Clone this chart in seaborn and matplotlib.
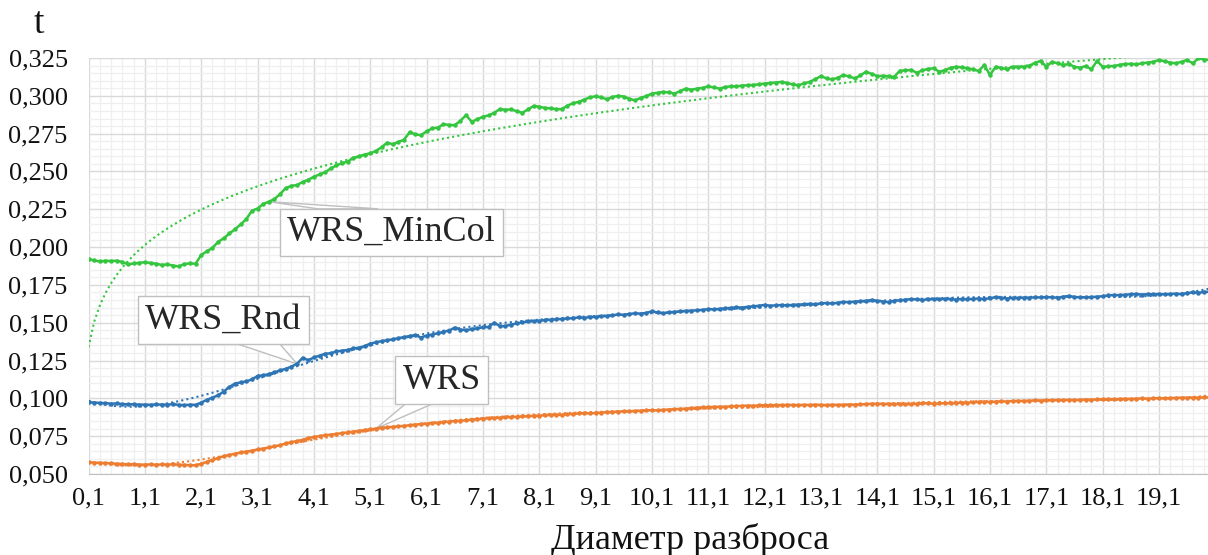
import numpy as np
import pandas as pd
import seaborn as sns
import matplotlib.pyplot as plt
from matplotlib.ticker import FixedLocator, MultipleLocator, FuncFormatter

# Диаметр разброса: 0,1 ... 20,0 с шагом 0,1
diam = np.round(np.arange(1, 201) * 0.1, 1)

wrs = [
    0.0578, 0.0575, 0.0574, 0.0572, 0.0570, 0.0568, 0.0566, 0.0564, 0.0565, 0.0562,
    0.0562, 0.0563, 0.0561, 0.0563, 0.0562, 0.0564, 0.0561, 0.0560, 0.0558, 0.0557,
    0.0568, 0.0580, 0.0592, 0.0605, 0.0618, 0.0626, 0.0634, 0.0642, 0.0648, 0.0654,
    0.0662, 0.0668, 0.0675, 0.0683, 0.0690, 0.0702, 0.0710, 0.0718, 0.0725, 0.0738,
    0.0745, 0.0750, 0.0756, 0.0760, 0.0765, 0.0770, 0.0775, 0.0780, 0.0785, 0.0790,
    0.0795, 0.0800, 0.0806, 0.0808, 0.0812, 0.0815, 0.0818, 0.0822, 0.0826, 0.0830,
    0.0832, 0.0836, 0.0838, 0.0843, 0.0846, 0.0850, 0.0852, 0.0855, 0.0860, 0.0862,
    0.0866, 0.0868, 0.0870, 0.0872, 0.0874, 0.0876, 0.0878, 0.0880, 0.0882, 0.0884,
    0.0886, 0.0888, 0.0890, 0.0892, 0.0890, 0.0895, 0.0897, 0.0900, 0.0902, 0.0900,
    0.0904, 0.0906, 0.0908, 0.0910, 0.0912, 0.0914, 0.0913, 0.0916, 0.0918, 0.0920,
    0.0922, 0.0920, 0.0924, 0.0926, 0.0928, 0.0930, 0.0932, 0.0935, 0.0938, 0.0940,
    0.0942, 0.0943, 0.0945, 0.0944, 0.0947, 0.0949, 0.0950, 0.0952, 0.0951, 0.0953,
    0.0955, 0.0954, 0.0956, 0.0955, 0.0957, 0.0956, 0.0955, 0.0957, 0.0956, 0.0958,
    0.0957, 0.0955, 0.0958, 0.0956, 0.0957, 0.0959, 0.0958, 0.0960, 0.0962, 0.0964,
    0.0965, 0.0963, 0.0962, 0.0961, 0.0963, 0.0960, 0.0962, 0.0964, 0.0966, 0.0968,
    0.0965, 0.0966, 0.0968, 0.0967, 0.0970, 0.0972, 0.0971, 0.0974, 0.0976, 0.0977,
    0.0976, 0.0978, 0.0980, 0.0979, 0.0982, 0.0983, 0.0982, 0.0984, 0.0986, 0.0985,
    0.0988, 0.0987, 0.0989, 0.0988, 0.0990, 0.0989, 0.0990, 0.0992, 0.0991, 0.0993,
    0.0994, 0.0995, 0.0994, 0.0996, 0.0997, 0.0996, 0.0998, 0.0999, 0.0998, 0.1000,
    0.1001, 0.1000, 0.1002, 0.1003, 0.1004, 0.1003, 0.1005, 0.1004, 0.1006, 0.1006,
]

wrs_rnd = [
    0.0974, 0.0972, 0.0970, 0.0968, 0.0965, 0.0966, 0.0962, 0.0960, 0.0961, 0.0958,
    0.0959, 0.0957, 0.0960, 0.0958, 0.0959, 0.0961, 0.0957, 0.0955, 0.0958, 0.0957,
    0.0972, 0.0990, 0.1005, 0.1020, 0.1045, 0.1075, 0.1098, 0.1105, 0.1112, 0.1125,
    0.1148, 0.1152, 0.1160, 0.1172, 0.1185, 0.1195, 0.1210, 0.1228, 0.1268, 0.1252,
    0.1270, 0.1282, 0.1295, 0.1298, 0.1310, 0.1315, 0.1320, 0.1330, 0.1335, 0.1345,
    0.1362, 0.1370, 0.1378, 0.1384, 0.1390, 0.1398, 0.1405, 0.1412, 0.1418, 0.1402,
    0.1415, 0.1422, 0.1430, 0.1440, 0.1448, 0.1468, 0.1455, 0.1450, 0.1458, 0.1462,
    0.1470, 0.1472, 0.1500, 0.1478, 0.1478, 0.1488, 0.1495, 0.1502, 0.1508, 0.1510,
    0.1512, 0.1518, 0.1520, 0.1522, 0.1525, 0.1528, 0.1530, 0.1535, 0.1532, 0.1538,
    0.1538, 0.1542, 0.1545, 0.1548, 0.1555, 0.1552, 0.1558, 0.1562, 0.1560, 0.1565,
    0.1575, 0.1568, 0.1562, 0.1568, 0.1572, 0.1575, 0.1578, 0.1580, 0.1582, 0.1585,
    0.1590, 0.1588, 0.1592, 0.1595, 0.1598, 0.1602, 0.1600, 0.1605, 0.1608, 0.1612,
    0.1618, 0.1612, 0.1615, 0.1617, 0.1615, 0.1618, 0.1620, 0.1622, 0.1625, 0.1622,
    0.1628, 0.1630, 0.1627, 0.1632, 0.1638, 0.1635, 0.1640, 0.1642, 0.1645, 0.1650,
    0.1645, 0.1640, 0.1636, 0.1645, 0.1648, 0.1652, 0.1656, 0.1654, 0.1650, 0.1655,
    0.1656, 0.1655, 0.1658, 0.1656, 0.1653, 0.1657, 0.1655, 0.1658, 0.1660, 0.1657,
    0.1662, 0.1668, 0.1665, 0.1660, 0.1664, 0.1663, 0.1666, 0.1665, 0.1668, 0.1667,
    0.1670, 0.1668, 0.1665, 0.1672, 0.1677, 0.1670, 0.1668, 0.1667, 0.1670, 0.1672,
    0.1675, 0.1680, 0.1683, 0.1682, 0.1685, 0.1688, 0.1690, 0.1686, 0.1689, 0.1688,
    0.1690, 0.1688, 0.1690, 0.1692, 0.1689, 0.1696, 0.1700, 0.1698, 0.1703, 0.1705,
]

wrs_mincol = [
    0.1920, 0.1912, 0.1905, 0.1910, 0.1908, 0.1910, 0.1902, 0.1885, 0.1892, 0.1896,
    0.1900, 0.1895, 0.1890, 0.1882, 0.1885, 0.1878, 0.1872, 0.1888, 0.1892, 0.1890,
    0.1948, 0.1972, 0.1995, 0.2035, 0.2058, 0.2090, 0.2118, 0.2150, 0.2185, 0.2240,
    0.2255, 0.2285, 0.2300, 0.2318, 0.2350, 0.2390, 0.2405, 0.2410, 0.2430, 0.2445,
    0.2465, 0.2480, 0.2495, 0.2520, 0.2540, 0.2555, 0.2565, 0.2590, 0.2600, 0.2612,
    0.2620, 0.2635, 0.2660, 0.2690, 0.2680, 0.2695, 0.2710, 0.2760, 0.2745, 0.2740,
    0.2765, 0.2785, 0.2790, 0.2812, 0.2808, 0.2806, 0.2835, 0.2872, 0.2829, 0.2845,
    0.2862, 0.2870, 0.2888, 0.2912, 0.2908, 0.2910, 0.2898, 0.2888, 0.2910, 0.2933,
    0.2928, 0.2920, 0.2917, 0.2912, 0.2912, 0.2935, 0.2951, 0.2960, 0.2975, 0.2990,
    0.2997, 0.2990, 0.2977, 0.2992, 0.3000, 0.2995, 0.2980, 0.2970, 0.2986, 0.2998,
    0.3015, 0.3020, 0.3026, 0.3022, 0.3015, 0.3030, 0.3048, 0.3040, 0.3048, 0.3052,
    0.3063, 0.3055, 0.3048, 0.3058, 0.3063, 0.3062, 0.3068, 0.3070, 0.3072, 0.3076,
    0.3081, 0.3085, 0.3088, 0.3092, 0.3085, 0.3075, 0.3070, 0.3082, 0.3092, 0.3110,
    0.3130, 0.3115, 0.3108, 0.3120, 0.3137, 0.3128, 0.3115, 0.3135, 0.3159, 0.3145,
    0.3130, 0.3132, 0.3130, 0.3125, 0.3166, 0.3168, 0.3171, 0.3153, 0.3168, 0.3178,
    0.3182, 0.3159, 0.3170, 0.3185, 0.3192, 0.3188, 0.3182, 0.3175, 0.3164, 0.3204,
    0.3137, 0.3192, 0.3185, 0.3175, 0.3192, 0.3190, 0.3192, 0.3200, 0.3218, 0.3231,
    0.3192, 0.3225, 0.3215, 0.3204, 0.3210, 0.3192, 0.3186, 0.3197, 0.3175, 0.3231,
    0.3192, 0.3195, 0.3197, 0.3205, 0.3210, 0.3212, 0.3208, 0.3215, 0.3220, 0.3225,
    0.3237, 0.3228, 0.3220, 0.3215, 0.3225, 0.3237, 0.3215, 0.3248, 0.3240, 0.3237,
]

col_wrs = '#ED7D31'
col_rnd = '#2E75B6'
col_min = '#34C63E'

df = pd.DataFrame({'d': diam, 'WRS': wrs, 'WRS_Rnd': wrs_rnd, 'WRS_MinCol': wrs_mincol})

# Линии тренда как в Excel: x = номер категории 1..N
idx = np.arange(1, len(diam) + 1)
b, a = np.polyfit(np.log(idx), np.log(df['WRS_MinCol']), 1)
df['tr_min'] = np.exp(a) * idx ** b
df['tr_rnd'] = np.polynomial.Polynomial.fit(idx, df['WRS_Rnd'], 6)(idx)
df['tr_wrs'] = np.polynomial.Polynomial.fit(idx, df['WRS'], 6)(idx)

sns.set_style('white')
plt.rcParams['font.family'] = ['Liberation Serif', 'DejaVu Serif']

fig = plt.figure(figsize=(12.08, 5.55), dpi=100)
ax = fig.add_axes([0.0733, 0.146, 0.9267, 0.7495])

for name, tr, c in [('WRS', 'tr_wrs', col_wrs), ('WRS_Rnd', 'tr_rnd', col_rnd),
                    ('WRS_MinCol', 'tr_min', col_min)]:
    sns.lineplot(data=df, x='d', y=name, ax=ax, color=c, lw=1.8, marker='o',
                 markersize=3.2, markeredgewidth=0, zorder=3)
    sns.lineplot(data=df, x='d', y=tr, ax=ax, color=c, lw=1.5, ls=(0, (1, 1.5)),
                 zorder=4)

ax.set_xlim(0.1, 19.97)
ax.set_ylim(0.05, 0.325)

ax.xaxis.set_major_locator(FixedLocator(np.arange(0.1, 20, 1.0)))
ax.xaxis.set_minor_locator(FixedLocator(np.arange(0.3, 20, 0.2)))
ax.yaxis.set_major_locator(MultipleLocator(0.025))
ax.yaxis.set_minor_locator(MultipleLocator(0.005))
ax.xaxis.set_major_formatter(FuncFormatter(lambda v, p: f'{v:.1f}'.replace('.', ',')))
ax.yaxis.set_major_formatter(FuncFormatter(lambda v, p: f'{v:.3f}'.replace('.', ',')))

ax.grid(which='major', color='#d9d9d9', lw=1.0)
ax.grid(which='minor', color='#efefef', lw=0.9)
ax.set_axisbelow(True)

for s in ['left', 'top', 'right']:
    ax.spines[s].set_visible(False)
ax.spines['bottom'].set_color('#bfbfbf')

ax.tick_params(axis='x', which='major', length=5, color='#bfbfbf', pad=5,
               labelsize=19, labelcolor='#111111')
ax.tick_params(axis='x', which='minor', length=0)
ax.tick_params(axis='y', which='both', length=0, pad=15, labelsize=19,
               labelcolor='#111111')
ax.set_xlabel('')
ax.set_ylabel('')

fig.text(690 / 1208, 1 - 540 / 555, 'Диаметр разброса', ha='center', va='center',
         fontsize=26, color='#111111')
fig.text(39 / 1208, 1 - 24 / 555, 't', ha='center', va='center', fontsize=27,
         color='#111111')

# Выноски: текст в рамке + треугольный "хвост" от края рамки к точке
callouts = [
    # подпись, серия, индекс точки, центр текста, край рамки, доли основания хвоста
    ('WRS_MinCol', 'WRS_MinCol', 32, (5.48, 0.2096), 'top', (0.17, 0.44)),
    ('WRS_Rnd', 'WRS_Rnd', 37, (2.49, 0.1518), 'bottom', (0.58, 0.83)),
    ('WRS', 'WRS', 51, (6.37, 0.1121), 'bottom', (0.11, 0.40)),
]
box = dict(boxstyle='square,pad=0.2', fc='white', ec='#bfbfbf', lw=1)
texts = []
for label, ser, i, pos, edge, fr in callouts:
    t = ax.text(pos[0], pos[1], label, ha='center', va='center', fontsize=26,
                bbox=box, zorder=6)
    texts.append(t)

fig.canvas.draw()
inv = ax.transData.inverted()
for t, (label, ser, i, pos, edge, fr) in zip(texts, callouts):
    bb = t.get_bbox_patch().get_window_extent()
    ey = bb.y1 if edge == 'top' else bb.y0
    p1 = inv.transform((bb.x0 + fr[0] * bb.width, ey))
    p2 = inv.transform((bb.x0 + fr[1] * bb.width, ey))
    tip = (df.loc[i, 'd'], df.loc[i, ser])
    ax.fill([p1[0], tip[0], p2[0]], [p1[1], tip[1], p2[1]], fc='white',
            ec='#bfbfbf', lw=1, zorder=2.5)

fig.savefig('out.png', dpi=100)
